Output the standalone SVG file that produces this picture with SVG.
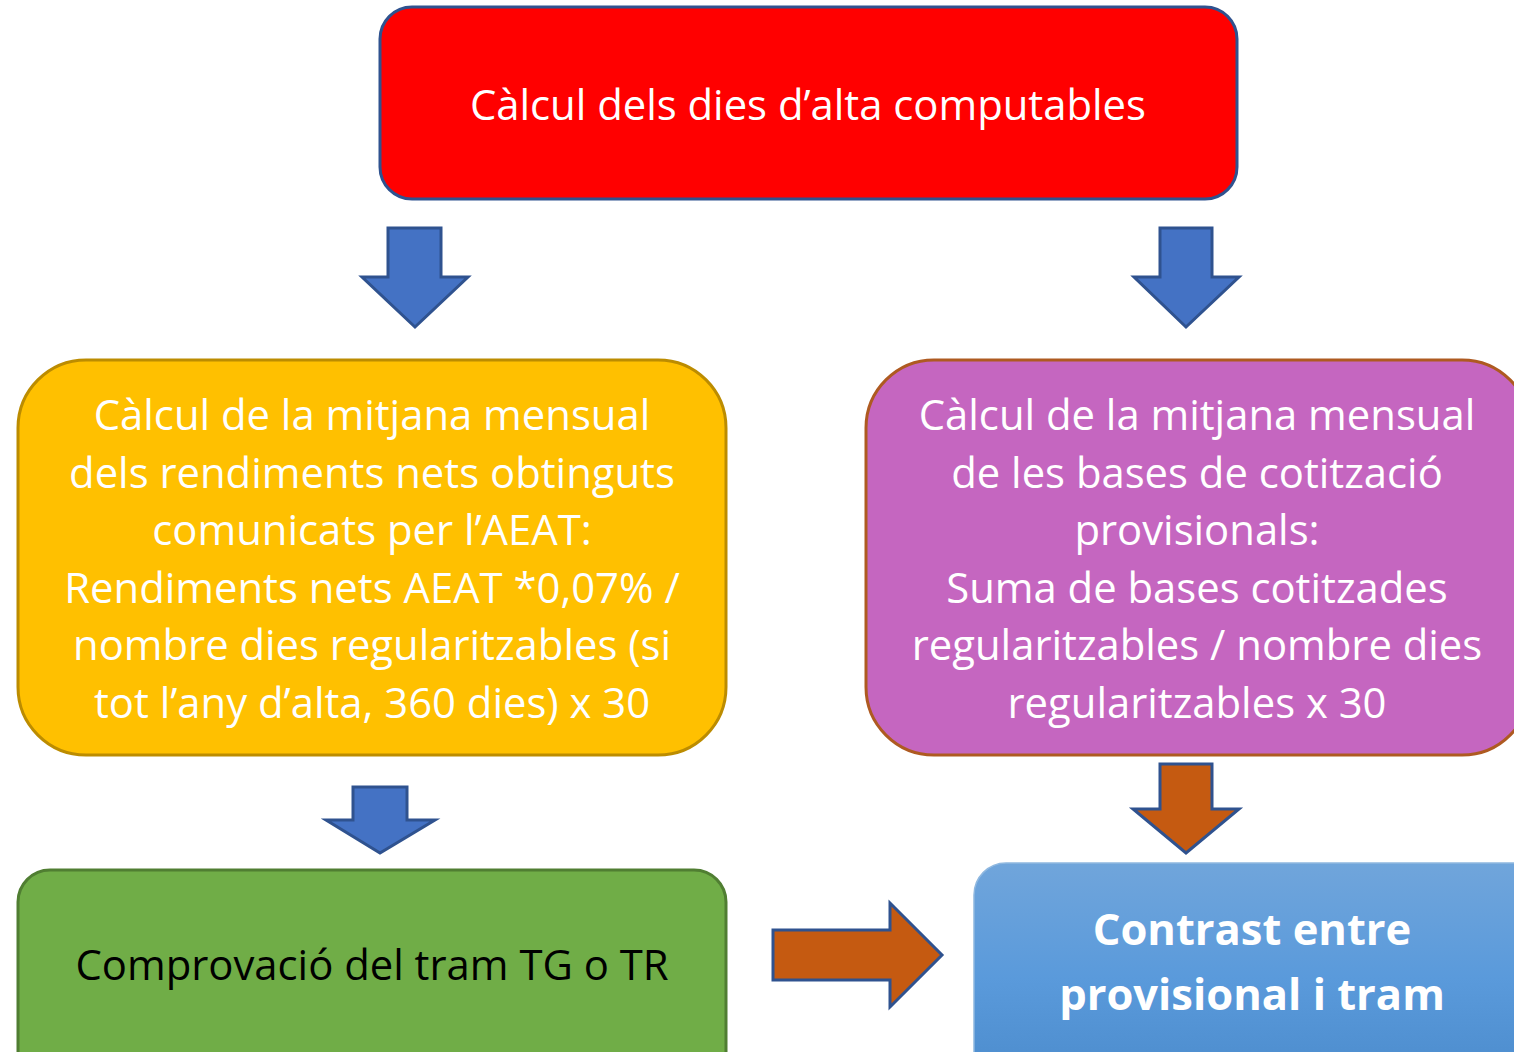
<svg xmlns="http://www.w3.org/2000/svg" width="1514" height="1052" viewBox="0 0 1514 1052">
<style>
.t{font-family:"Open Sans","Noto Sans","Liberation Sans",sans-serif;font-size:41.8px;text-anchor:middle;fill:#fff}
.b{font-weight:bold;font-size:43.5px}
.k{fill:#000}
.ab{fill:#4472C4;stroke:#2F528F;stroke-width:3;stroke-linejoin:miter}
.ao{fill:#C55A11;stroke:#2F528F;stroke-width:3;stroke-linejoin:miter}
</style>
<defs>
<linearGradient id="gb" x1="0" y1="0" x2="0" y2="1">
<stop offset="0" stop-color="#70A5DB"/>
<stop offset="0.5" stop-color="#5A9ADB"/>
<stop offset="1" stop-color="#4A8ACB"/>
</linearGradient>
</defs>
<rect width="1514" height="1052" fill="#fff"/>
<g id="n-dies">
<rect x="380" y="7" width="857" height="192" rx="32" fill="#FF0000" stroke="#2F528F" stroke-width="3"/>
<text class="t" x="808" y="120">Càlcul dels dies d’alta computables</text>
</g>
<g id="n-rendiments">
<rect x="18" y="360" width="708" height="395" rx="68" fill="#FFC000" stroke="#BC8C00" stroke-width="3"/>
<text class="t" x="372" y="430">Càlcul de la mitjana mensual</text>
<text class="t" x="372" y="488">dels rendiments nets obtinguts</text>
<text class="t" x="372" y="545">comunicats per l’AEAT:</text>
<text class="t" x="372" y="603">Rendiments nets AEAT *0,07% /</text>
<text class="t" x="372" y="660">nombre dies regularitzables (si</text>
<text class="t" x="372" y="718">tot l’any d’alta, 360 dies) x 30</text>
</g>
<g id="n-bases">
<rect x="866" y="360" width="664" height="395" rx="68" fill="#C566C0" stroke="#AE5A21" stroke-width="3"/>
<text class="t" x="1197" y="430">Càlcul de la mitjana mensual</text>
<text class="t" x="1197" y="488">de les bases de cotització</text>
<text class="t" x="1197" y="545">provisionals:</text>
<text class="t" x="1197" y="603">Suma de bases cotitzades</text>
<text class="t" x="1197" y="660">regularitzables / nombre dies</text>
<text class="t" x="1197" y="718">regularitzables x 30</text>
</g>
<g id="n-tram">
<rect x="18" y="870" width="708" height="220" rx="32" fill="#70AD47" stroke="#507E32" stroke-width="3"/>
<text class="t k" x="372" y="980">Comprovació del tram TG o TR</text>
</g>
<g id="n-contrast">
<rect x="974" y="863" width="600" height="230" rx="32" fill="url(#gb)" stroke="#8FB8E0" stroke-width="1.5"/>
<text class="t b" x="1252" y="945">Contrast entre</text>
<text class="t b" x="1252" y="1010">provisional i tram</text>
</g>
<g id="connectors">
<polygon class="ab" points="388,228 441,228 441,277 468,277 415,327 362,277 388,277"/>
<polygon class="ab" points="1160,228 1212,228 1212,277 1239,277 1186,327 1134,277 1160,277"/>
<polygon class="ab" points="353,787 407,787 407,820 435,820 380,853 326,820 353,820"/>
<polygon class="ao" points="1160,764 1212,764 1212,809 1239,809 1186,853 1133,809 1160,809"/>
<polygon class="ao" points="773,930 890,930 890,903 942,955 890,1007 890,980 773,980"/>
</g>
</svg>
